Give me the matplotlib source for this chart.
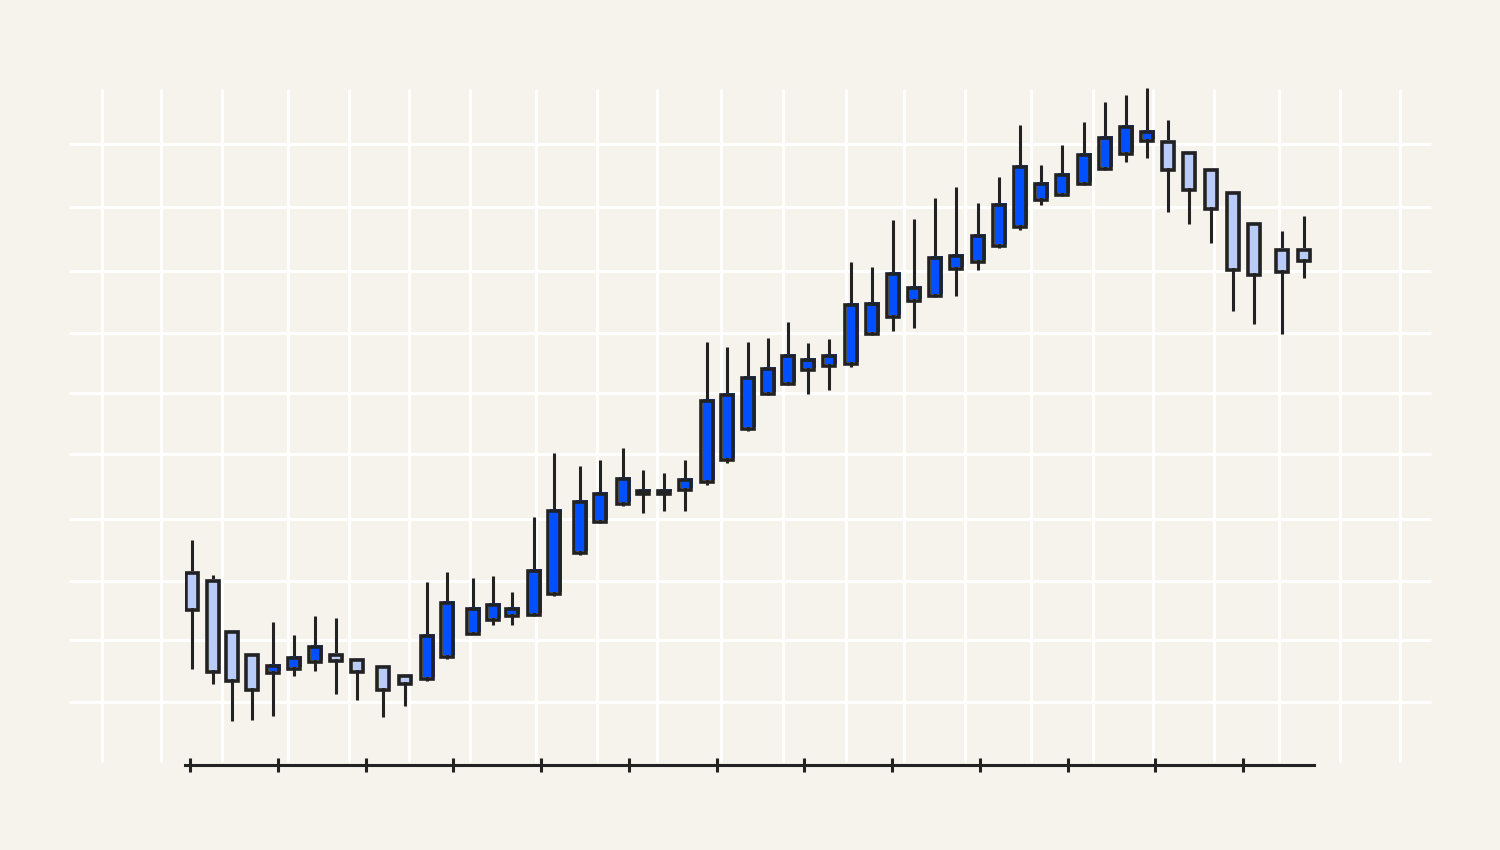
import numpy as np
import matplotlib
matplotlib.use("Agg")
import matplotlib.pyplot as plt
from matplotlib.transforms import offset_copy

# session position on the time axis (ticks every 4 units)
t = [0.09, 1.05, 1.91, 2.83, 3.78, 4.74, 5.70, 6.65, 7.61, 8.80,
     9.80, 10.78, 11.71, 12.90, 13.81, 14.68, 15.68, 16.59, 17.78, 18.69,
     19.74, 20.65, 21.60, 22.56, 23.56, 24.48, 25.43, 26.34, 27.26, 28.17,
     29.12, 30.13, 31.08, 32.04, 33.00, 33.96, 34.91, 35.92, 36.87, 37.83,
     38.79, 39.74, 40.75, 41.70, 42.66, 43.62, 44.58, 45.53, 46.54, 47.54,
     48.50, 49.77, 50.77]

open_ = [45.5, 43.8, 33.6, 29.1, 25.5, 26.3, 27.7, 29.1, 28.1, 26.7,
         24.9, 24.3, 28.7, 33.3, 36.1, 36.9, 37.1, 41.3, 49.5, 55.7,
         59.3, 61.3, 61.2, 62.0, 63.7, 68.0, 74.3, 81.2, 83.2, 86.0,
         86.8, 87.2, 93.2, 96.6, 99.8, 100.9, 106.2, 107.7, 110.8, 114.6,
         120.1, 121.1, 123.3, 126.3, 129.3, 131.8, 131.5, 129.5, 125.9, 121.5,
         115.2, 110.0, 110.0]
high = [52.1, 45.0, 33.6, 29.1, 35.7, 33.1, 36.9, 36.5, 28.1, 26.7,
        24.9, 43.7, 45.7, 44.5, 44.9, 41.7, 56.7, 69.5, 66.9, 68.1,
        70.4, 66.1, 65.5, 68.1, 91.7, 90.6, 91.7, 92.5, 95.7, 91.5,
        92.3, 107.7, 106.6, 116.0, 116.3, 120.4, 122.7, 119.4, 124.7, 135.1,
        127.1, 131.0, 135.7, 139.6, 141.1, 142.4, 136.1, 129.5, 125.9, 121.5,
        115.2, 113.9, 116.8]
low = [26.3, 23.2, 15.8, 16.0, 16.9, 24.9, 25.9, 21.3, 20.0, 16.7,
       18.8, 23.8, 28.3, 33.2, 35.0, 35.1, 36.8, 40.9, 49.1, 55.4,
       58.9, 57.4, 57.9, 57.8, 63.0, 67.5, 73.9, 81.0, 83.0, 81.3,
       82.1, 86.7, 93.0, 93.9, 94.5, 100.6, 100.9, 106.0, 110.5, 114.0,
       119.0, 120.8, 123.1, 126.1, 127.6, 128.4, 117.6, 115.3, 111.5, 97.9,
       95.2, 93.3, 104.5]
close = [38.1, 25.7, 23.9, 22.0, 26.8, 28.5, 30.6, 27.9, 25.7, 22.1,
         23.2, 32.9, 39.5, 38.3, 39.1, 38.2, 45.9, 57.8, 59.6, 61.3,
         64.2, 61.9, 61.8, 64.0, 79.8, 81.1, 84.4, 86.3, 88.9, 88.1,
         88.8, 99.1, 99.3, 105.2, 102.5, 108.5, 108.9, 112.9, 118.9, 126.5,
         123.3, 125.0, 128.9, 132.3, 134.6, 133.6, 126.1, 122.0, 118.3, 106.0,
         105.1, 105.6, 107.8]

BG = "#f6f2ec"
UP = "#0050ff"
DOWN = "#b9cbf9"
INK = "#222222"

fig = plt.figure(figsize=(15, 8.5), dpi=100, facecolor=BG)

# decorative background grid (pixel space)
bg = fig.add_axes([0, 0, 1, 1], zorder=0)
bg.set_xlim(0, 1500)
bg.set_ylim(850, 0)
bg.axis("off")
grid_x = [102, 161, 222, 288, 349, 409, 470, 536, 597, 657, 721,
          783, 846, 904, 965, 1031, 1093, 1153, 1214, 1279, 1340, 1400]
grid_y = [144, 207, 271, 333, 393, 454, 519, 581, 640, 702]
bg.vlines(grid_x, 89, 762, color="white", lw=2.2)
bg.hlines(grid_y, 69, 1431, color="white", lw=2.2)

ax = fig.add_axes([185 / 1500, 85 / 850, 1129 / 1500, 685 / 850], zorder=1)
ax.patch.set_alpha(0)
ax.set_xlim(-0.23, 51.23)
ax.set_ylim(7, 144)

t = np.array(t)
o = np.array(open_)
c = np.array(close)
up = c >= o
colors = np.where(up, UP, DOWN)
bottom = np.minimum(o, c)
height = np.abs(c - o)
w = 0.55

ax.vlines(t, low, high, color=INK, lw=2.2, zorder=2)
shifted = offset_copy(ax.transData, fig=fig, x=2, y=2, units="dots")
ax.bar(t, height, w, bottom, color=colors, edgecolor="none",
       transform=shifted, zorder=3)
ax.bar(t, height, w, bottom, facecolor="none", edgecolor=INK,
       lw=2.6, zorder=4)

for s in ["top", "right", "left"]:
    ax.spines[s].set_visible(False)
ax.spines["bottom"].set_color(INK)
ax.spines["bottom"].set_linewidth(2.2)
ax.set_xticks(np.arange(0, 49, 4))
ax.set_yticks([])
ax.tick_params(axis="x", direction="inout", length=10, width=2.2,
               color=INK, labelbottom=False)

fig.savefig("out.png", dpi=100, facecolor=BG)
